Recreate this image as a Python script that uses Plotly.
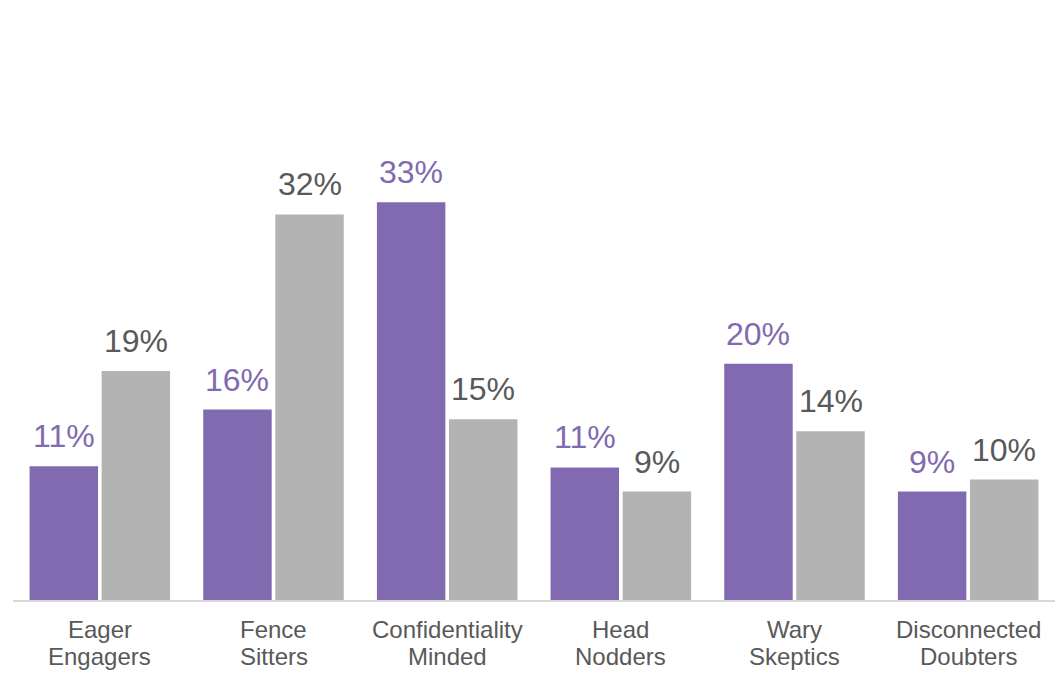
import plotly.graph_objects as go

categories = ["Eager<br>Engagers", "Fence<br>Sitters", "Confidentiality<br>Minded",
              "Head<br>Nodders", "Wary<br>Skeptics", "Disconnected<br>Doubters"]
purple_values = [11.1, 15.8, 33.0, 11.0, 19.6, 9.0]
gray_values = [19.0, 32.0, 15.0, 9.0, 14.0, 10.0]

PURPLE = "#826AB1"
GRAY = "#B3B3B3"
TEXT_GRAY = "#595959"
FONT = "Liberation Sans, Arial, sans-serif"

# page body has an 8px margin; figure sized to fit the 1063x684 window
W, H = 1047, 668
ml, mr, mt, mb = 5, 0, 110, 75.5
bargap = 0.17
cat_px = (W - ml - mr) / len(categories)
slot_px = cat_px * (1 - bargap) / 2
offset = slot_px / 2

fig = go.Figure()
fig.add_trace(go.Bar(x=categories, y=purple_values, marker=dict(color=PURPLE, line=dict(width=0)),
                     name="A", hoverinfo="skip"))
fig.add_trace(go.Bar(x=categories, y=gray_values, marker=dict(color=GRAY, line=dict(width=0)),
                     name="B", hoverinfo="skip"))

annotations = []
for cat, pv, gv in zip(categories, purple_values, gray_values):
    annotations.append(dict(x=cat, y=pv, xref="x", yref="y", text=f"{pv:.0f}%",
                            showarrow=False, xshift=-offset, yshift=10, yanchor="bottom",
                            font=dict(size=32, color=PURPLE, family=FONT)))
    annotations.append(dict(x=cat, y=gv, xref="x", yref="y", text=f"{gv:.0f}%",
                            showarrow=False, xshift=offset, yshift=10, yanchor="bottom",
                            font=dict(size=32, color=TEXT_GRAY, family=FONT)))
    # category label, one annotation per line for tighter line spacing
    for i, line in enumerate(cat.split("<br>")):
        annotations.append(dict(x=cat, y=0, xref="x", yref="y", text=line,
                                showarrow=False, yanchor="middle", yshift=-29 - 27.3 * i,
                                font=dict(size=24, color=TEXT_GRAY, family=FONT)))

fig.update_layout(
    width=W, height=H,
    margin=dict(l=ml, r=mr, t=mt, b=mb, autoexpand=False),
    paper_bgcolor="white", plot_bgcolor="white",
    barmode="group", bargap=bargap, bargroupgap=0.05,
    showlegend=False,
    annotations=annotations,
    font=dict(family=FONT, color=TEXT_GRAY),
    xaxis=dict(showline=True, linecolor="#D9D9D9", linewidth=1.5, ticks="",
               showticklabels=False, showgrid=False, zeroline=False),
    yaxis=dict(range=[0, 40], visible=False, showgrid=False, zeroline=False),
)

fig.write_html("out.html")
